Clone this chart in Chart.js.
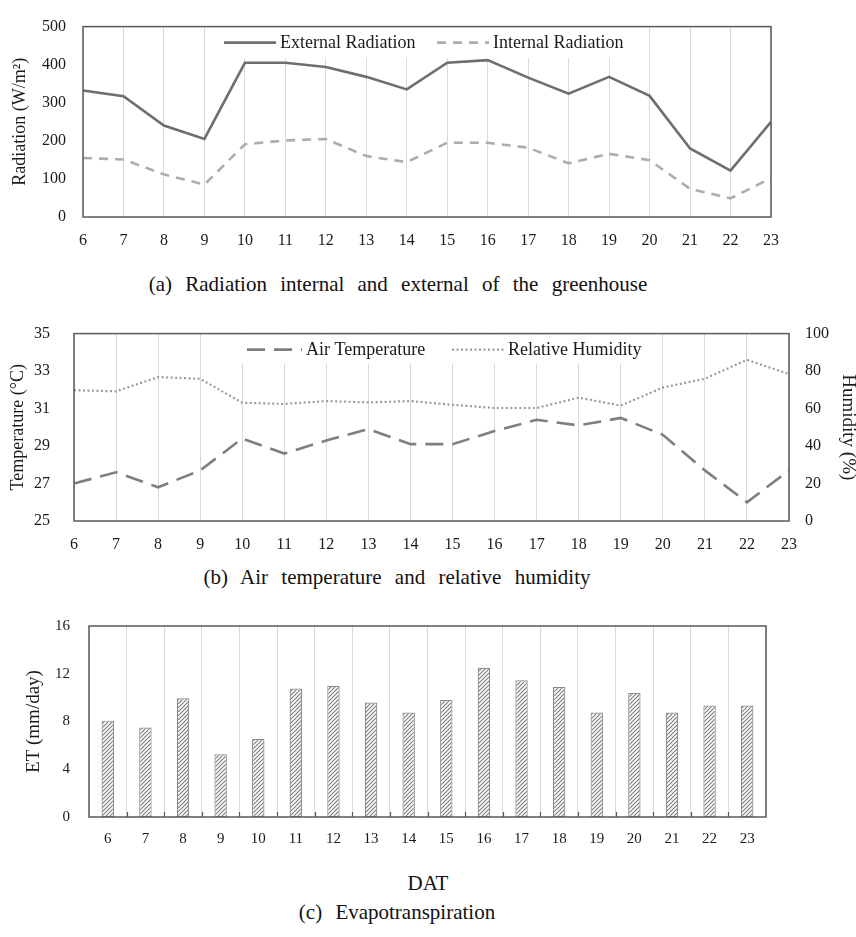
<!DOCTYPE html>
<html><head><meta charset="utf-8">
<script src="https://cdn.jsdelivr.net/npm/chart.js@4.4.0/dist/chart.umd.min.js"></script>
<style>
body{margin:0;background:#fff;width:856px;height:937px;position:relative;overflow:hidden;font-family:"Liberation Serif","Times New Roman",serif;}
canvas{position:absolute;left:0;}
.cap{position:absolute;left:0;width:856px;text-align:center;font-size:21px;color:#111;word-spacing:8px;white-space:nowrap;line-height:24px;}
</style></head><body>
<canvas id="ca" width="856" height="262" style="top:0"></canvas>
<canvas id="cb" width="856" height="262" style="top:300px"></canvas>
<canvas id="cc" width="856" height="262" style="top:590px"></canvas>
<div class="cap" style="top:272px;left:-30px">(a) Radiation internal and external of the greenhouse</div>
<div class="cap" style="top:565px;left:-31px">(b) Air temperature and relative humidity</div>
<div class="cap" style="top:871px;left:0;word-spacing:0">DAT</div>
<div class="cap" style="top:900px;left:-31px">(c) Evapotranspiration</div>
<script>
const days = ['6','7','8','9','10','11','12','13','14','15','16','17','18','19','20','21','22','23'];
const externalRad = [332,317,240,205,405,405,394,368,335,405,412,366,324,368,318,180,122,250];
const internalRad = [155,151,112,85,191,201,205,160,144,195,195,182,141,166,149,74,49,102];
const airTemp = [27.0,27.6,26.8,27.7,29.4,28.6,29.3,29.9,29.1,29.1,29.8,30.4,30.1,30.5,29.6,27.7,26.0,27.7];
const humidity = [69.8,69.2,76.8,75.9,63.1,62.5,64.0,63.3,64.0,62.0,60.3,60.3,65.8,61.6,71.2,75.9,86.0,78.4];
const evapo = [8.07,7.49,9.94,5.26,6.53,10.77,10.99,9.59,8.76,9.8,12.5,11.45,10.88,8.76,10.38,8.76,9.34,9.34];

const FONT = '"Liberation Serif","Times New Roman",serif';
const TXT = '#1a1a1a';
const FRAME = '#595959';
const GRID = '#d9d9d9';

const framePlugin = {
  id:'frame',
  afterDraw(chart){
    const a = chart.chartArea, ctx = chart.ctx;
    ctx.save();
    ctx.strokeStyle = FRAME; ctx.lineWidth = 1.5;
    ctx.strokeRect(a.left, a.top, a.right-a.left, a.bottom-a.top);
    ctx.restore();
  }
};
const legendPlugin = {
  id:'insideLegend',
  afterDatasetsDraw(chart, args, opts){
    if(!opts.items) return;
    const ctx = chart.ctx, a = chart.chartArea;
    ctx.save();
    ctx.fillStyle = '#fff';
    ctx.fillRect(opts.boxX1, a.top+1, opts.boxX2-opts.boxX1, opts.boxH);
    ctx.font = opts.fontSize + 'px ' + FONT;
    ctx.textBaseline = 'middle';
    const y = a.top + opts.dy;
    opts.items.forEach(it=>{
      ctx.strokeStyle = it.color; ctx.lineWidth = it.width; ctx.setLineDash(it.dash);
      ctx.beginPath(); ctx.moveTo(it.x1, y); ctx.lineTo(it.x2, y); ctx.stroke();
      ctx.setLineDash([]);
      ctx.fillStyle = TXT; ctx.textAlign='left';
      ctx.fillText(it.label, it.x2 + 4, y + 1);
    });
    ctx.restore();
  }
};
const tickMarkPlugin = {
  id:'innerTicks',
  afterDraw(chart, args, opts){
    if(!opts.on) return;
    const ctx = chart.ctx, x = chart.scales.x, a = chart.chartArea;
    ctx.save(); ctx.strokeStyle = FRAME; ctx.lineWidth = 1.2;
    for(let i=1;i<days.length;i++){
      const px = Math.round(x.getPixelForValue(i-0.5))+0.5;
      ctx.beginPath(); ctx.moveTo(px, a.bottom); ctx.lineTo(px, a.bottom-5); ctx.stroke();
    }
    ctx.restore();
  }
};
Chart.register(framePlugin, legendPlugin, tickMarkPlugin);
Chart.defaults.font.family = FONT;
Chart.defaults.color = TXT;
Chart.defaults.animation = false;

function fixW(w){ return s=>{ s.width = w; }; }
function fixH(h){ return s=>{ s.height = h; }; }

// Panel (a)
new Chart(document.getElementById('ca'), {
  type:'line',
  data:{labels:days, datasets:[
    {label:'External Radiation', data:externalRad, borderColor:'#6e6e6e', borderWidth:2.6, pointRadius:0, tension:0},
    {label:'Internal Radiation', data:internalRad, borderColor:'#adadad', borderWidth:2.6, borderDash:[9,7], pointRadius:0, tension:0}
  ]},
  options:{
    responsive:false,
    layout:{padding:{left:0, right:85, top:15, bottom:0}},
    plugins:{legend:{display:false}, tooltip:{enabled:false},
      insideLegend:{boxX1:205, boxX2:632, boxH:31, dy:16, fontSize:18, items:[
        {label:'External Radiation', color:'#6e6e6e', width:2.6, dash:[], x1:224, x2:276},
        {label:'Internal Radiation', color:'#adadad', width:2.6, dash:[9,7], x1:437, x2:489}
      ]}},
    scales:{
      x:{offset:false, grid:{color:GRID, drawTicks:false}, border:{display:false},
         ticks:{padding:14, font:{size:16}, maxRotation:0, autoSkip:false}, afterFit:fixH(45)},
      y:{min:0, max:500, grid:{display:false, drawTicks:false}, border:{display:false},
         ticks:{stepSize:100, padding:17, font:{size:16}},
         title:{display:true, text:'Radiation (W/m²)', font:{size:18}, padding:{top:9,bottom:0}},
         afterFit:fixW(83)}
    }
  }
});

// Panel (b)
new Chart(document.getElementById('cb'), {
  type:'line',
  data:{labels:days, datasets:[
    {label:'Air Temperature', data:airTemp, yAxisID:'y', borderColor:'#7f7f7f', borderWidth:2.6, borderDash:[18,9], pointRadius:0, tension:0},
    {label:'Relative Humidity', data:humidity, yAxisID:'y1', borderColor:'#9a9a9a', borderWidth:2.2, borderDash:[2,2.5], pointRadius:0, tension:0}
  ]},
  options:{
    responsive:false,
    layout:{padding:{left:0, right:0, top:23, bottom:0}},
    plugins:{legend:{display:false}, tooltip:{enabled:false},
      insideLegend:{boxX1:236, boxX2:656, boxH:29, dy:16, fontSize:18, items:[
        {label:'Air Temperature', color:'#7f7f7f', width:2.6, dash:[18,9], x1:247, x2:302},
        {label:'Relative Humidity', color:'#9a9a9a', width:2.2, dash:[2,2.5], x1:452, x2:504}
      ]}},
    scales:{
      x:{offset:false, grid:{color:GRID, drawTicks:false}, border:{display:false},
         ticks:{padding:14, font:{size:16}, maxRotation:0, autoSkip:false}, afterFit:fixH(41)},
      y:{position:'left', min:25, max:35, grid:{display:false, drawTicks:false}, border:{display:false},
         ticks:{stepSize:2, padding:24, font:{size:16}},
         title:{display:true, text:'Temperature (°C)', font:{size:18}, padding:{top:7,bottom:0}},
         afterFit:fixW(74)},
      y1:{position:'right', min:0, max:100, grid:{display:false, drawTicks:false}, border:{display:false},
         ticks:{stepSize:20, padding:16, font:{size:16}},
         title:{display:true, text:'Humidity (%)', font:{size:19, lineHeight:0.85}, padding:{top:0,bottom:0}},
         afterFit:fixW(67)}
    }
  }
});

// Panel (c)
function hatch(){
  const c = document.createElement('canvas'); c.width = 4; c.height = 4;
  const g = c.getContext('2d');
  g.fillStyle = '#ffffff'; g.fillRect(0,0,4,4);
  g.strokeStyle = '#7a7a7a'; g.lineWidth = 1.1;
  g.beginPath();
  g.moveTo(0,4); g.lineTo(4,0);
  g.moveTo(-1,1); g.lineTo(1,-1);
  g.moveTo(3,5); g.lineTo(5,3);
  g.stroke();
  return g.createPattern(c,'repeat');
}
new Chart(document.getElementById('cc'), {
  type:'bar',
  data:{labels:days, datasets:[
    {label:'ET', data:evapo, backgroundColor:hatch(), borderColor:'#8c8c8c', borderWidth:1.2, borderSkipped:false,
     barPercentage:0.66, categoryPercentage:0.5}
  ]},
  options:{
    responsive:false,
    layout:{padding:{left:0, right:90, top:36, bottom:0}},
    plugins:{legend:{display:false}, tooltip:{enabled:false}, innerTicks:{on:true}},
    scales:{
      x:{offset:true, grid:{color:GRID, drawTicks:false, offset:true}, border:{display:false},
         ticks:{padding:13, font:{size:15}, maxRotation:0, autoSkip:false}, afterFit:fixH(35)},
      y:{min:0, max:16, grid:{display:false, drawTicks:false}, border:{display:false},
         ticks:{stepSize:4, padding:19, font:{size:15}},
         title:{display:true, text:'ET (mm/day)', font:{size:19}, padding:{top:23,bottom:0}},
         afterFit:fixW(89)}
    }
  }
});
</script>
</body></html>
